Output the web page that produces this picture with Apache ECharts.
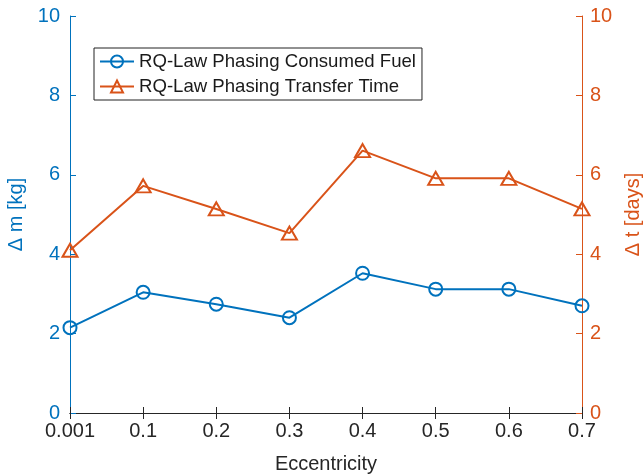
<!DOCTYPE html>
<html><head><meta charset="utf-8">
<script src="https://cdn.jsdelivr.net/npm/echarts@6/dist/echarts.min.js"></script>
<style>html,body{margin:0;padding:0;background:#fff;overflow:hidden}#c{width:643px;height:475px;display:block}</style>
</head><body><div id="c"></div>
<script>
const categories = ['0.001','0.1','0.2','0.3','0.4','0.5','0.6','0.7'];
const fuelValues = [2.15, 3.04, 2.74, 2.40, 3.52, 3.12, 3.12, 2.70];
const timeValues = [4.10, 5.72, 5.14, 4.53, 6.61, 5.91, 5.91, 5.14];
const yTicks = [0, 2, 4, 6, 8, 10];
const fuelName = 'RQ-Law Phasing Consumed Fuel';
const timeName = 'RQ-Law Phasing Transfer Time';
const blue = '#0072BD', orange = '#D95319';
const font = 'Liberation Sans, Arial, Helvetica, sans-serif';

const chart = echarts.init(document.getElementById('c'), null, {renderer:'canvas', width:643, height:475});
chart.setOption({
  animation:false,
  backgroundColor:'#fff',
  textStyle:{fontFamily:font},
  grid:{left:70,right:61,top:16,bottom:62,containLabel:false,outerBoundsMode:'none'},
  legend:{
    orient:'vertical', left:94, top:48, padding:[4,6,4,5], itemGap:6,
    itemWidth:34, itemHeight:15,
    backgroundColor:'#fff', borderColor:'#222', borderWidth:1, borderRadius:0,
    textStyle:{fontSize:18.6, color:'#1a1a1a', fontFamily:font},
    data:[fuelName,timeName]
  },
  xAxis:[{
    type:'category', data:categories, boundaryGap:false, position:'bottom',
    name:'Eccentricity', nameLocation:'middle', nameGap:41,
    nameTextStyle:{fontSize:20,color:'#262626'},
    axisLine:{lineStyle:{color:'#262626',width:1}},
    axisTick:{inside:true,length:6,lineStyle:{color:'#262626'}},
    axisLabel:{fontSize:20,color:'#262626',margin:8},
    splitLine:{show:false}
  },{
    type:'category', data:categories, boundaryGap:false, position:'top',
    axisLine:{lineStyle:{color:'#262626',width:1}},
    axisTick:{inside:true,length:6,lineStyle:{color:'#262626'}},
    axisLabel:{show:false}, splitLine:{show:false}
  }],
  yAxis:[{
    type:'value', min:yTicks[0], max:yTicks[yTicks.length-1], interval:2, position:'left',
    name:'\u0394 m [kg]', nameLocation:'middle', nameGap:40,
    nameTextStyle:{fontSize:20,color:blue},
    axisLine:{show:true,lineStyle:{color:blue,width:1}},
    axisTick:{show:true,inside:true,length:6,lineStyle:{color:blue}},
    axisLabel:{fontSize:20,color:blue,margin:10},
    splitLine:{show:false}
  },{
    type:'value', min:yTicks[0], max:yTicks[yTicks.length-1], interval:2, position:'right',
    name:'\u0394 t [days]', nameLocation:'middle', nameGap:40, nameRotate:90,
    nameTextStyle:{fontSize:20,color:orange},
    axisLine:{show:true,lineStyle:{color:orange,width:1}},
    axisTick:{show:true,inside:true,length:6,lineStyle:{color:orange}},
    axisLabel:{fontSize:20,color:orange,margin:8},
    splitLine:{show:false}
  }],
  series:[{
    name:fuelName, type:'line', xAxisIndex:0, yAxisIndex:0, data:fuelValues,
    symbol:'circle', symbolSize:13, showAllSymbol:true,
    lineStyle:{color:blue,width:2}, itemStyle:{color:'rgba(255,255,255,0)',borderColor:blue,borderWidth:2}
  },{
    name:timeName, type:'line', xAxisIndex:0, yAxisIndex:1, data:timeValues,
    symbol:'triangle', symbolSize:[15,13], showAllSymbol:true,
    lineStyle:{color:orange,width:2}, itemStyle:{color:'rgba(255,255,255,0)',borderColor:orange,borderWidth:2}
  }]
});
</script></body></html>
